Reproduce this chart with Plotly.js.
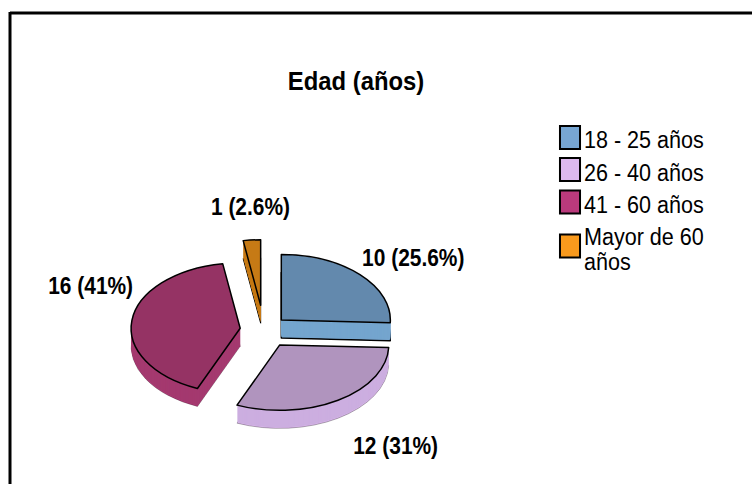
<!DOCTYPE html>
<html>
<head>
<meta charset="utf-8">
<script src="https://cdn.plot.ly/plotly-3.0.1.min.js"></script>
<style>html,body{margin:0;padding:0;background:#fff}#chart{width:752px;height:484px}</style>
</head>
<body>
<div id="chart"></div>
<script>
var categories = ['18 - 25 años', '26 - 40 años', '41 - 60 años', 'Mayor de 60<br>años'];
var counts = [10, 12, 16, 1];
var valueLabels = ['10 (25.6%)', '12 (31%)', '16 (41%)', '1 (2.6%)'];
var labelX = [413, 395, 90, 251];
var labelY = [258, 446, 286, 207];
var pulls = [0.22, 0.27, 0.22, 0.38];
var topColors = ['#6389AD', '#B094BE', '#953364', '#C67A15'];
var wallColors = ['#74A5CE', '#CCAEE0', '#A4396F', '#C67A15'];
var legendColors = ['#77A6D3', '#DDB9EE', '#BA3A7C', '#F99A1D'];
var legendRowY = [137.5, 169.5, 202, 246];
var legendTextShift = [1, 2, 1, 5];
var W = 752, H = 484, CX = 264, CY = 330, BOX = 301, SQUASH = 0.6, DEPTH = 18, MIDY = 242;

var traces = [];
for (var d = DEPTH; d >= 0; d--) {
  var isBottom = d === DEPTH, isTop = d === 0;
  traces.push({
    type: 'pie', values: counts, labels: categories, sort: false, direction: 'clockwise', rotation: 0,
    pull: pulls, textinfo: 'none', hoverinfo: 'skip', showlegend: isBottom,
    domain: {x: [(CX - BOX / 2) / W, (CX + BOX / 2) / W], y: [1 - (MIDY + BOX / 2) / H, 1 - (MIDY - BOX / 2) / H]},
    marker: {
      colors: isBottom ? legendColors : (isTop ? topColors : wallColors),
      line: {color: '#000', width: isTop ? 1.5 : (isBottom ? [1.5, 0.3, 0.3, 1] : 0)}
    }
  });
}

var annotations = valueLabels.map(function (t, i) {
  return {text: t, xref: 'paper', yref: 'paper', x: labelX[i] / W, y: 1 - labelY[i] / H, showarrow: false,
    xanchor: 'center', yanchor: 'middle', font: {family: 'Liberation Sans', size: 23, color: '#000', weight: 700}};
});

var layout = {
  width: W, height: H, margin: {l: 0, r: 0, t: 0, b: 0}, paper_bgcolor: '#fff', plot_bgcolor: '#fff',
  title: {text: '<b>Edad (años)</b>', x: 356 / W, xanchor: 'center', y: 1 - 81 / H, yanchor: 'middle',
    font: {family: 'Liberation Sans', size: 26.5, color: '#000'}},
  legend: {x: 544 / W, xanchor: 'left', y: 1 - 118 / H, yanchor: 'top', traceorder: 'normal', bgcolor: 'rgba(0,0,0,0)',
    font: {family: 'Liberation Sans', size: 24.5, color: '#000'}, itemclick: false, itemdoubleclick: false},
  annotations: annotations,
  shapes: [
    {type: 'line', xref: 'paper', yref: 'paper', x0: 10 / W, x1: 1, y0: 1 - 13 / H, y1: 1 - 13 / H, line: {color: '#000', width: 3}},
    {type: 'line', xref: 'paper', yref: 'paper', x0: 10 / W, x1: 10 / W, y0: 1 - 12 / H, y1: 0, line: {color: '#000', width: 3}}
  ]
};

function squeeze(t, sx) {
  var b = t.getBBox(), c = b.x + b.width / 2;
  t.setAttribute('transform', 'translate(' + c + ',0) scale(' + sx + ',1) translate(' + (-c) + ',0)');
}

Plotly.newPlot('chart', traces, layout, {displayModeBar: false, staticPlot: true}).then(function () {
  var root = document.getElementById('chart');
  root.querySelectorAll('.pielayer .trace').forEach(function (g, i) {
    var depth = DEPTH - i;
    var ty = CY - SQUASH * MIDY + depth;
    g.setAttribute('transform', 'translate(0,' + ty + ') scale(1,' + SQUASH + ')');
    g.querySelectorAll('path').forEach(function (p) { p.setAttribute('vector-effect', 'non-scaling-stroke'); });
  });
  root.querySelectorAll('.annotation-text-g text').forEach(function (t) { squeeze(t, 0.91); });
  root.querySelectorAll('.gtitle').forEach(function (t) { squeeze(t, 0.9); });
  root.querySelectorAll('.legend .traces').forEach(function (row, i) {
    var p = row.querySelector('path.legendpie');
    var text = row.querySelector('text.legendtext');
    var x0 = parseFloat(text.getAttribute('x')) || 0;
    text.setAttribute('transform', 'translate(' + x0 + ',' + legendTextShift[i] + ') scale(0.88,1) translate(' + (-x0) + ',0)');
    var lines = text.querySelectorAll('tspan.line');
    if (lines.length > 1) {
      lines.forEach(function (l, k) { l.removeAttribute('dy'); l.setAttribute('dy', (k * 25) + 'px'); l.removeAttribute('y'); });
    }
    p.setAttribute('transform', 'translate(26,0) scale(1.67,1.9)');
    p.setAttribute('vector-effect', 'non-scaling-stroke');
    p.style.strokeWidth = '2px';
    p.style.stroke = '#000';
    var tr = (row.getAttribute('transform') || '').match(/translate\(\s*([-\d.]+)[ ,]+([-\d.]+)/);
    var rx = tr ? parseFloat(tr[1]) : 0, ry = tr ? parseFloat(tr[2]) : 0;
    var r = p.getBoundingClientRect();
    row.setAttribute('transform', 'translate(' + rx + ',' + (ry + legendRowY[i] - (r.top + r.height / 2)) + ')');
  });
});
</script>
</body>
</html>
